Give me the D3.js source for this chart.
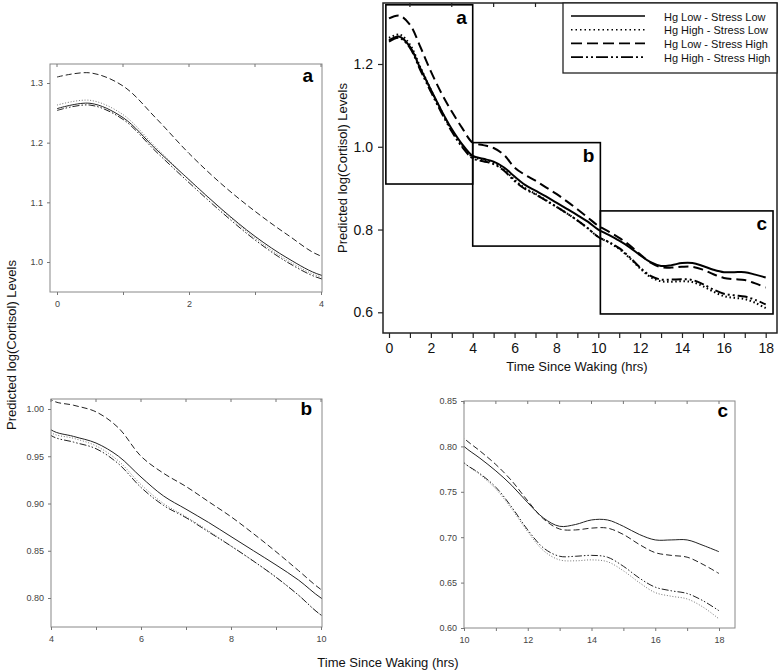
<!DOCTYPE html>
<html><head><meta charset="utf-8">
<script src="https://cdn.jsdelivr.net/npm/d3@7/dist/d3.min.js"></script>
<style>
body{margin:0;background:#fff;}
svg{display:block;font-family:"Liberation Sans",Arial,sans-serif;}
</style></head>
<body><svg id="chart" width="778" height="671"></svg>
<script>
// ---------------- data ----------------
const times = [0,0.5,1,1.5,2,2.5,3,3.5,4,4.5,5,5.5,6,6.5,7,7.5,8,8.5,9,9.5,10,10.5,11,11.5,12,12.5,13,13.5,14,14.5,15,15.5,16,16.5,17,17.5,18];
const seriesNames = ["Hg Low - Stress Low","Hg High - Stress Low","Hg Low - Stress High","Hg High - Stress High"];
const hgLowStressLow = [1.257,1.266,1.242,1.189,1.138,1.088,1.043,1.006,0.978,0.971,0.964,0.950,0.928,0.908,0.894,0.880,0.865,0.850,0.835,0.819,0.800,0.787,0.773,0.757,0.738,0.721,0.712,0.714,0.719,0.719,0.712,0.703,0.697,0.697,0.697,0.691,0.684];
const hgHighStressLow = [1.263,1.271,1.247,1.192,1.138,1.087,1.040,1.002,0.975,0.969,0.961,0.945,0.920,0.900,0.886,0.871,0.855,0.839,0.822,0.803,0.782,0.769,0.753,0.731,0.706,0.685,0.675,0.674,0.675,0.673,0.663,0.650,0.639,0.635,0.632,0.623,0.610];
const hgLowStressHigh = [1.310,1.317,1.295,1.241,1.182,1.130,1.085,1.045,1.010,1.004,0.997,0.980,0.950,0.932,0.918,0.902,0.886,0.868,0.849,0.829,0.809,0.795,0.780,0.762,0.740,0.720,0.709,0.708,0.710,0.710,0.703,0.692,0.683,0.680,0.678,0.670,0.660];
const hgHighStressHigh = [1.254,1.263,1.239,1.185,1.133,1.083,1.037,0.999,0.972,0.965,0.958,0.942,0.917,0.898,0.885,0.870,0.855,0.839,0.822,0.803,0.782,0.770,0.755,0.733,0.708,0.688,0.679,0.679,0.680,0.678,0.668,0.655,0.645,0.641,0.638,0.630,0.619];
const allSeries = [hgLowStressLow,hgHighStressLow,hgLowStressHigh,hgHighStressHigh];

const mainXTicks = [0,1,2,3,4,5,6,7,8,9,10,11,12,13,14,15,16,17,18];
const mainXLabels = [0,2,4,6,8,10,12,14,16,18];
const mainYTicks = [0.6,0.8,1.0,1.2];
const zoomLabels = ["a","b","c"];
const zoomX0 = [-0.15,4.0,10.1];
const zoomX1 = [4.0,10.1,18.35];
const zoomY0 = [0.91,0.76,0.596];
const zoomY1 = [1.343,1.01,0.845];

const panelAX = [0,1,2,3,4], panelAXLabels=[0,2,4], panelAY=[1.0,1.1,1.2,1.3];
const panelBX = [4,5,6,7,8,9,10], panelBXLabels=[4,6,8,10], panelBY=[0.80,0.85,0.90,0.95,1.00];
const panelCX = [10,11,12,13,14,15,16,17,18], panelCXLabels=[10,12,14,16,18], panelCY=[0.60,0.65,0.70,0.75,0.80,0.85];

// ---------------- drawing ----------------
const svg = d3.select("#chart");
svg.append("rect").attr("width",778).attr("height",671).attr("fill","#fff");

const mainDash = [null,"1.5,2.6","10,5","10,3,2,3,2,3"];
const insetDash = [null,"1,1.8","6,3","7,2,1.5,2,1.5,2"];
const insetColor = ["#222","#777","#222","#222"];

function seriesData(i){ return times.map((t,k)=>({t, v: allSeries[i][k]})); }

// -------- main panel --------
const mx = d3.scaleLinear().domain([0,18]).range([389,765.7]);
const my = d3.scaleLinear().domain([0.6,1.2]).range([312.3,64]);
const mainFrame = {x0:383,x1:777,y0:3,y1:333};

const mg = svg.append("g");
mg.append("clipPath").attr("id","mclip").append("rect")
  .attr("x",mainFrame.x0).attr("y",mainFrame.y0).attr("width",mainFrame.x1-mainFrame.x0).attr("height",mainFrame.y1-mainFrame.y0);

const mline = d3.line().x(d=>mx(d.t)).y(d=>my(d.v)).curve(d3.curveCatmullRom.alpha(0.5));
allSeries.forEach((s,i)=>{
  mg.append("path").attr("clip-path","url(#mclip)").attr("d",mline(seriesData(i)))
    .attr("fill","none").attr("stroke","#000").attr("stroke-width",2)
    .attr("stroke-dasharray",mainDash[i]);
});

// zoom boxes
zoomLabels.forEach((lab,i)=>{
  const x0=mx(zoomX0[i]), x1=mx(zoomX1[i]), y0=my(zoomY1[i]), y1=my(zoomY0[i]);
  mg.append("rect").attr("x",x0).attr("y",y0).attr("width",x1-x0).attr("height",y1-y0)
    .attr("fill","none").attr("stroke","#000").attr("stroke-width",1.6);
  mg.append("text").attr("x",x1-6).attr("y",y0+19).attr("text-anchor","end")
    .attr("font-size",19).attr("font-weight","bold").text(lab);
});

// frame
mg.append("rect").attr("x",mainFrame.x0).attr("y",mainFrame.y0).attr("width",mainFrame.x1-mainFrame.x0)
  .attr("height",mainFrame.y1-mainFrame.y0).attr("fill","none").attr("stroke","#222").attr("stroke-width",1.5);

// bottom axis
const mxAxis = mg.append("g").attr("transform",`translate(0,${mainFrame.y1})`)
  .call(d3.axisBottom(mx).tickValues(mainXTicks).tickSize(5).tickPadding(5)
    .tickFormat(d=>mainXLabels.includes(d)?d:""));
mxAxis.select(".domain").remove();
mxAxis.selectAll("line").attr("stroke","#222").attr("stroke-width",1.2);
mxAxis.selectAll("text").attr("font-size",14).attr("fill","#111").attr("font-family","Liberation Sans, Arial, sans-serif");
// top ticks (odd hours)
mg.selectAll(".topTick").data(mainXTicks.filter(d=>d%2===1)).enter().append("line")
  .attr("x1",d=>mx(d)).attr("x2",d=>mx(d)).attr("y1",mainFrame.y0).attr("y2",mainFrame.y0+4)
  .attr("stroke","#222").attr("stroke-width",1.2);
// left axis
const myAxis = mg.append("g").attr("transform",`translate(${mainFrame.x0},0)`)
  .call(d3.axisLeft(my).tickValues(mainYTicks).tickSize(5).tickPadding(5).tickFormat(d3.format(".1f")));
myAxis.select(".domain").remove();
myAxis.selectAll("line").attr("stroke","#222").attr("stroke-width",1.2);
myAxis.selectAll("text").attr("font-size",14).attr("fill","#111").attr("font-family","Liberation Sans, Arial, sans-serif");

mg.append("text").attr("x",577).attr("y",371).attr("text-anchor","middle").attr("font-size",13).attr("fill","#111")
  .text("Time Since Waking (hrs)");
mg.append("text").attr("transform","translate(347,168) rotate(-90)").attr("text-anchor","middle")
  .attr("font-size",13).attr("fill","#111").text("Predicted log(Cortisol) Levels");

// legend
const lg = mg.append("g");
lg.append("rect").attr("x",563).attr("y",mainFrame.y0).attr("width",mainFrame.x1-563).attr("height",70)
  .attr("fill","#fff").attr("stroke","#222").attr("stroke-width",1.3);
const legendDash = [null,"1.5,3","11,5","12,3,2,3,2,3"];
seriesNames.forEach((n,i)=>{
  const y = 16 + i*13.7;
  lg.append("line").attr("x1",571).attr("x2",645).attr("y1",y).attr("y2",y)
    .attr("stroke","#000").attr("stroke-width",1.6).attr("stroke-dasharray",legendDash[i]);
  lg.append("text").attr("x",664).attr("y",y+4.5).attr("font-size",11).attr("fill","#111").text(n);
});

// -------- inset panels --------
function inset(cfg){
  const g = svg.append("g");
  const x = d3.scaleLinear().domain(cfg.xd).range(cfg.xr);
  const y = d3.scaleLinear().domain(cfg.yd).range(cfg.yr);
  const f = cfg.frame;
  g.append("clipPath").attr("id",cfg.id).append("rect")
    .attr("x",f.x0).attr("y",f.y0).attr("width",f.x1-f.x0).attr("height",f.y1-f.y0);
  const line = d3.line().x(d=>x(d.t)).y(d=>y(d.v)).curve(d3.curveCatmullRom.alpha(0.5));
  const lo = cfg.xd[0]-0.6, hi = cfg.xd[1]+0.6;
  allSeries.forEach((s,i)=>{
    const data = seriesData(i).filter(d=>d.t>=lo && d.t<=hi);
    g.append("path").attr("clip-path",`url(#${cfg.id})`).attr("d",line(data))
      .attr("fill","none").attr("stroke",insetColor[i]).attr("stroke-width",1)
      .attr("stroke-dasharray",insetDash[i]);
  });
  g.append("rect").attr("x",f.x0).attr("y",f.y0).attr("width",f.x1-f.x0).attr("height",f.y1-f.y0)
    .attr("fill","none").attr("stroke","#888").attr("stroke-width",1);
  const xa = g.append("g").attr("transform",`translate(0,${f.y1})`)
    .call(d3.axisBottom(x).tickValues(cfg.xt).tickSize(3).tickPadding(6)
      .tickFormat(d=>cfg.xl.includes(d)?d:""));
  xa.select(".domain").remove();
  const ya = g.append("g").attr("transform",`translate(${f.x0},0)`)
    .call(d3.axisLeft(y).tickValues(cfg.yt).tickSize(3).tickPadding(4).tickFormat(d3.format(cfg.yf)));
  ya.select(".domain").remove();
  [xa,ya].forEach(a=>{
    a.selectAll("line").attr("stroke","#777");
    a.selectAll("text").attr("font-size",9).attr("fill","#444").attr("font-family","Liberation Sans, Arial, sans-serif");
  });
  g.selectAll(".tt").data(cfg.xt).enter().append("line")
    .attr("x1",d=>x(d)).attr("x2",d=>x(d)).attr("y1",f.y0).attr("y2",f.y0+3).attr("stroke","#777");
  g.append("text").attr("x",cfg.lab[0]).attr("y",cfg.lab[1]).attr("text-anchor","end")
    .attr("font-size",19).attr("font-weight","bold").attr("fill","#000").text(cfg.label);
}

inset({id:"ca",xd:[0,4],xr:[57,321],yd:[1.0,1.3],yr:[262,83],frame:{x0:50,x1:322,y0:64,y1:292},
  xt:panelAX,xl:panelAXLabels,yt:panelAY,yf:".1f",label:"a",lab:[313,82]});
inset({id:"cb",xd:[4,10],xr:[51,321],yd:[0.80,1.00],yr:[598,409],frame:{x0:51,x1:322,y0:399,y1:627},
  xt:panelBX,xl:panelBXLabels,yt:panelBY,yf:".2f",label:"b",lab:[312,415]});
inset({id:"cc",xd:[10,18],xr:[464,719],yd:[0.60,0.85],yr:[628,401],frame:{x0:464,x1:735,y0:401,y1:628},
  xt:panelCX,xl:panelCXLabels,yt:panelCY,yf:".2f",label:"c",lab:[728,417]});

// shared titles
svg.append("text").attr("transform","translate(16,345) rotate(-90)").attr("text-anchor","middle")
  .attr("font-size",13).attr("fill","#111").text("Predicted log(Cortisol) Levels");
svg.append("text").attr("x",388).attr("y",667).attr("text-anchor","middle")
  .attr("font-size",13).attr("fill","#111").text("Time Since Waking (hrs)");
</script></body></html>
